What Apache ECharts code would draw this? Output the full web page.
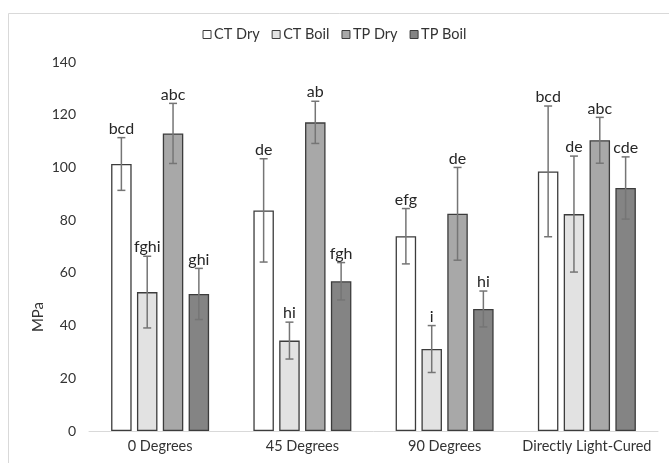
<!DOCTYPE html>
<html>
<head>
<meta charset="utf-8">
<script src="https://cdn.jsdelivr.net/npm/echarts@6/dist/echarts.min.js"></script>
<style>
  html, body { margin: 0; padding: 0; background: #fff; }
  #chart { width: 669px; height: 463px; }
</style>
</head>
<body>
<div id="chart"></div>
<script>
// Flexural strength by orientation and storage condition
const categories = ['0 Degrees', '45 Degrees', '90 Degrees', 'Directly Light-Cured'];
const seriesNames = ['CT Dry', 'CT Boil', 'TP Dry', 'TP Boil'];

const ctDry      = [101.3, 83.7, 73.9, 98.5];
const ctDryErr   = [10.0, 19.6, 10.5, 24.8];
const ctBoil     = [52.7, 34.3, 31.1, 82.3];
const ctBoilErr  = [13.6, 7.0, 8.9, 22.0];
const tpDry      = [112.9, 117.1, 82.4, 110.3];
const tpDryErr   = [11.4, 8.0, 17.6, 8.7];
const tpBoil     = [52.0, 56.8, 46.3, 92.2];
const tpBoilErr  = [9.7, 7.1, 6.8, 11.8];

const ctDryLetters  = ['bcd', 'de', 'efg', 'bcd'];
const ctBoilLetters = ['fghi', 'hi', 'i', 'de'];
const tpDryLetters  = ['abc', 'ab', 'de', 'abc'];
const tpBoilLetters = ['ghi', 'fgh', 'hi', 'cde'];

const yTicks = [0, 20, 40, 60, 80, 100, 120, 140];

const values  = [ctDry, ctBoil, tpDry, tpBoil];
const errors  = [ctDryErr, ctBoilErr, tpDryErr, tpBoilErr];
const letters = [ctDryLetters, ctBoilLetters, tpDryLetters, tpBoilLetters];
const fills   = ['#ffffff', '#e2e2e2', '#a8a8a8', '#848484'];

const FONT = 'Lato, "Noto Sans", sans-serif';
const BAR_W = 20.5;
const GAP_RATIO = 0.26;
const PITCH = BAR_W * (1 + GAP_RATIO);

const chart = echarts.init(document.getElementById('chart'), null, { renderer: 'canvas' });

const barSeries = seriesNames.map((name, i) => ({
  name: name,
  type: 'bar',
  data: values[i],
  barWidth: BAR_W,
  barGap: (GAP_RATIO * 100) + '%',
  itemStyle: { color: fills[i], borderColor: '#3c3c3c', borderWidth: 1.3 },
  emphasis: { disabled: true },
  z: 2
}));

// Error bars and significance letters drawn on top of each bar
const errorSeries = seriesNames.map((name, i) => ({
  name: name + ' error',
  type: 'custom',
  data: values[i].map((v, k) => [k, v, errors[i][k]]),
  encode: { x: 0, y: 1 },
  z: 5,
  silent: true,
  renderItem: function (params, api) {
    const k = api.value(0);
    const v = api.value(1);
    const e = api.value(2);
    const base = api.coord([k, v]);
    const cx = base[0] + (i - 1.5) * PITCH;
    const yTop = api.coord([k, v + e])[1];
    const yBot = api.coord([k, v - e])[1];
    const cap = 4;
    const stroke = { stroke: '#757575', lineWidth: 1.5 };
    return {
      type: 'group',
      children: [
        { type: 'line', shape: { x1: cx, y1: yTop, x2: cx, y2: yBot }, style: stroke },
        { type: 'line', shape: { x1: cx - cap, y1: yTop, x2: cx + cap, y2: yTop }, style: stroke },
        { type: 'line', shape: { x1: cx - cap, y1: yBot, x2: cx + cap, y2: yBot }, style: stroke },
        {
          type: 'text',
          style: {
            text: letters[i][k],
            x: cx,
            y: yTop - 1,
            align: 'center',
            verticalAlign: 'bottom',
            fill: '#262626',
            font: '16px ' + FONT
          }
        }
      ]
    };
  }
}));

chart.setOption({
  animation: false,
  backgroundColor: '#ffffff',
  textStyle: { fontFamily: FONT },
  legend: {
    data: seriesNames,
    top: 22,
    left: 'center',
    icon: 'rect',
    itemWidth: 8,
    itemHeight: 8,
    itemGap: 12,
    textStyle: { fontSize: 14.5, color: '#333', padding: [0, 0, 0, -2] },
    itemStyle: { borderColor: '#3c3c3c', borderWidth: 1 }
  },
  grid: { left: 89, right: 11, top: 62, bottom: 32, containLabel: false },
  xAxis: {
    type: 'category',
    data: categories,
    axisLine: { lineStyle: { color: '#d9d9d9', width: 1 } },
    axisTick: { show: false },
    axisLabel: { color: '#333', fontSize: 14.5, margin: 8, interval: 0 }
  },
  yAxis: {
    type: 'value',
    min: yTicks[0],
    max: yTicks[yTicks.length - 1],
    interval: 20,
    splitLine: { show: false },
    axisLine: { show: false },
    axisTick: { show: false },
    axisLabel: { color: '#333', fontSize: 14, margin: 13 }
  },
  graphic: [
    {
      type: 'rect',
      shape: { x: 8.5, y: 13.5, width: 680, height: 480 },
      style: { fill: 'none', stroke: '#d9d9d9', lineWidth: 1 },
      silent: true,
      z: -1
    },
    {
      type: 'text',
      x: 38,
      y: 317,
      rotation: Math.PI / 2,
      style: {
        text: 'MPa',
        align: 'center',
        verticalAlign: 'middle',
        fill: '#333',
        font: '15px ' + FONT
      }
    }
  ],
  series: barSeries.concat(errorSeries)
});
</script>
</body>
</html>
